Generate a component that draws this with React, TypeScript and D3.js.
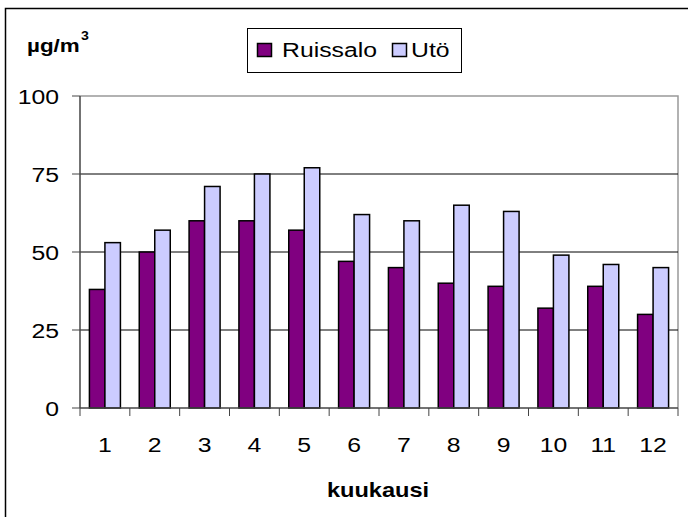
import React from "react"
import * as d3 from "d3"

const months = ["1", "2", "3", "4", "5", "6", "7", "8", "9", "10", "11", "12"]
const ruissalo = [38, 50, 60, 60, 57, 47, 45, 40, 39, 32, 39, 30]
const uto = [53, 57, 71, 75, 77, 62, 60, 65, 63, 49, 46, 45]
const seriesNames = ["Ruissalo", "Utö"]
const seriesColors = ["#800080", "#CCCCFF"]
const yTicks = [0, 25, 50, 75, 100]

const W = 688
const H = 517
const plot = { left: 80, right: 678, top: 96, bottom: 408 }
const font = "'Liberation Sans', Arial, sans-serif"
// the original text is a bit wider than Arial
const SX = 1.18

function T(props: {
  x: number
  y: number
  size: number
  anchor?: string
  bold?: boolean
  dy?: string
  children: React.ReactNode
}) {
  return (
    <g transform={`translate(${props.x},${props.y}) scale(${SX},1)`}>
      <text
        dy={props.dy}
        textAnchor={props.anchor || "start"}
        fontSize={props.size}
        fontWeight={props.bold ? "bold" : "normal"}
        fill="#000"
      >
        {props.children}
      </text>
    </g>
  )
}

export default function App() {
  const x = d3.scaleBand<string>().domain(months).range([plot.left, plot.right])
  const y = d3.scaleLinear().domain([0, 100]).range([plot.bottom, plot.top])
  const barW = 15.5
  const inner = d3.scaleBand<string>().domain(seriesNames).range([-barW, barW])
  const values = [ruissalo, uto]

  return (
    <svg width={W} height={H} style={{ position: "absolute", left: 0, top: 0 }} fontFamily={font}>
      <rect x={0} y={0} width={W} height={H} fill="#fff" />
      {/* outer frame */}
      <rect x={5.5} y={8.5} width={W + 10} height={H + 10} fill="none" stroke="#000" strokeWidth={1.5} />

      {/* plot area border */}
      <path d={`M${plot.left},${plot.top}H${plot.right}V${plot.bottom}`} fill="none" stroke="#999" strokeWidth={1.5} />

      {/* gridlines */}
      {yTicks.slice(1, -1).map((t) => (
        <line key={t} x1={plot.left} x2={plot.right} y1={y(t)} y2={y(t)} stroke="#000" strokeWidth={1} />
      ))}

      {/* bars */}
      {months.map((m, i) => (
        <g key={m} transform={`translate(${x(m)! + x.bandwidth() / 2},0)`}>
          {seriesNames.map((s, j) => (
            <rect
              key={s}
              x={inner(s)!}
              y={y(values[j][i])}
              width={inner.bandwidth()}
              height={y(0) - y(values[j][i])}
              fill={seriesColors[j]}
              stroke="#000"
              strokeWidth={1.5}
            />
          ))}
        </g>
      ))}

      {/* y axis */}
      <line x1={plot.left} x2={plot.left} y1={plot.top} y2={plot.bottom} stroke="#444" strokeWidth={1.5} />
      {yTicks.map((t) => (
        <g key={t}>
          <line x1={plot.left - 8} x2={plot.left} y1={y(t)} y2={y(t)} stroke="#444" strokeWidth={1} />
          <T x={59} y={y(t)} dy="0.36em" anchor="end" size={21}>
            {t}
          </T>
        </g>
      ))}

      {/* x axis */}
      <line x1={plot.left} x2={plot.right} y1={plot.bottom} y2={plot.bottom} stroke="#444" strokeWidth={1.5} />
      {[...months.map((m) => x(m)!), plot.right].map((px, i) => (
        <line key={i} x1={px} x2={px} y1={plot.bottom} y2={plot.bottom + 8} stroke="#444" strokeWidth={1} />
      ))}
      {months.map((m) => (
        <T key={m} x={x(m)! + x.bandwidth() / 2} y={452} anchor="middle" size={21}>
          {m}
        </T>
      ))}

      <T x={378} y={497} anchor="middle" size={20} bold>
        kuukausi
      </T>

      {/* unit label */}
      <T x={27} y={52} size={19} bold>
        µg/m<tspan dx={1} dy={-12} fontSize={12}>3</tspan>
      </T>

      {/* legend */}
      <rect x={247.5} y={28.5} width={214} height={44} fill="#fff" stroke="#000" strokeWidth={1} />
      {seriesNames.map((s, j) => {
        const lx = j === 0 ? 257.5 : 392.5
        return (
          <g key={s}>
            <rect x={lx} y={43.5} width={14} height={13} fill={seriesColors[j]} stroke="#000" strokeWidth={1.5} />
            <T x={j === 0 ? 282 : 411} y={57} size={21}>
              {s}
            </T>
          </g>
        )
      })}
    </svg>
  )
}
